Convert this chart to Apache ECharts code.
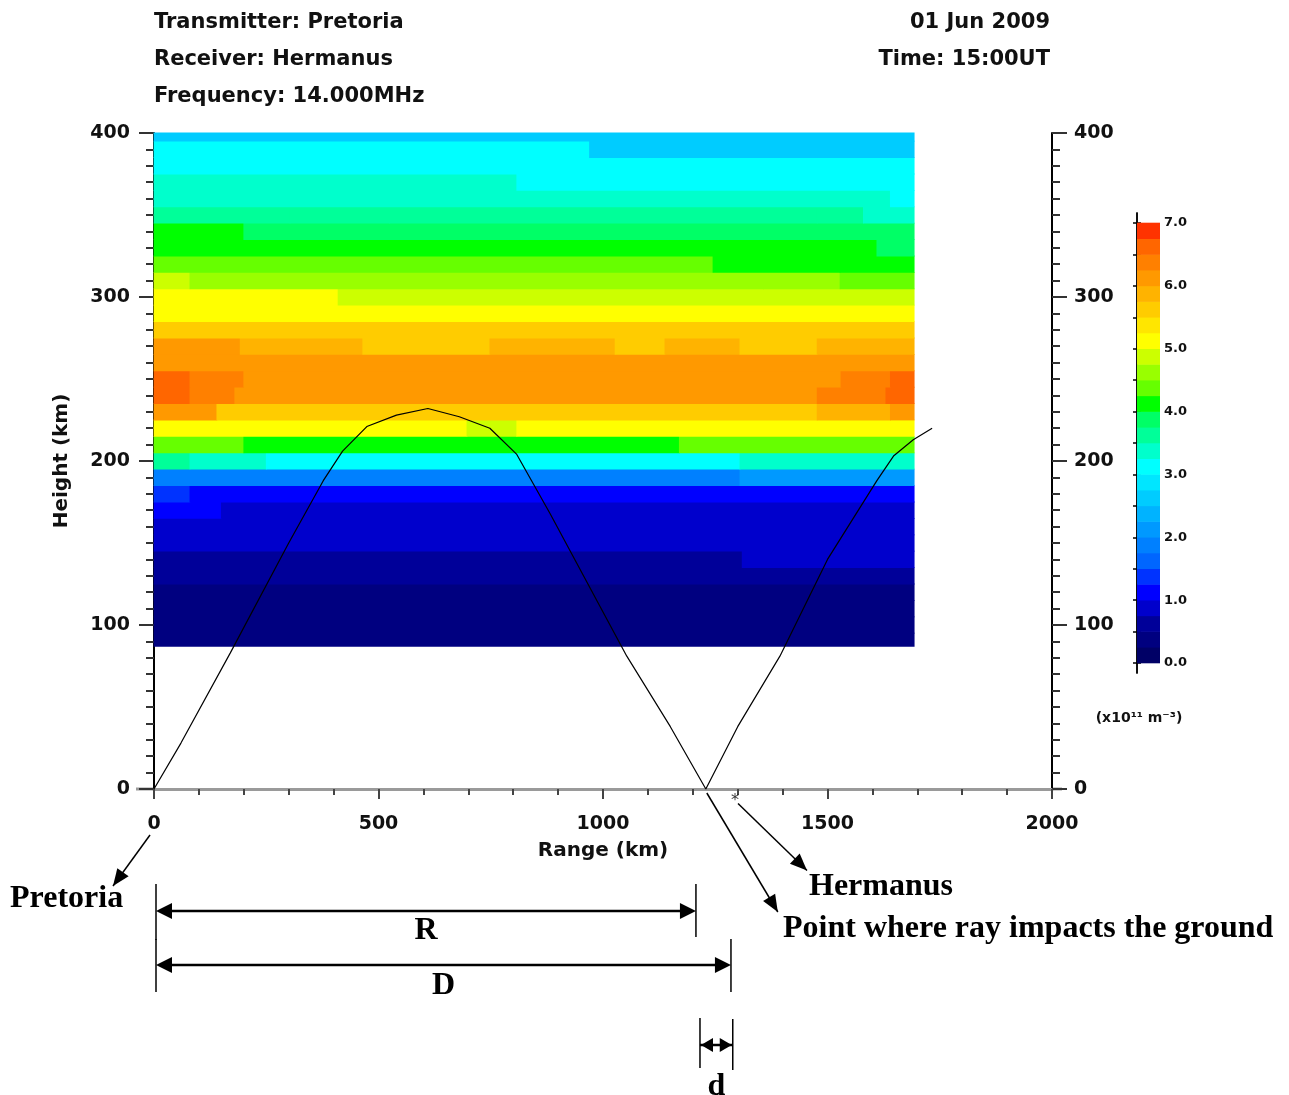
<!DOCTYPE html>
<html><head><meta charset="utf-8">
<script src="https://cdn.jsdelivr.net/npm/echarts@6/dist/echarts.min.js"></script>
<style>html,body{margin:0;padding:0;background:#fff}#c{width:1289px;height:1095px}</style>
</head><body><div id="c"></div>
<script>
// ---------- data ----------
const headerLeft = ['Transmitter: Pretoria', 'Receiver: Hermanus', 'Frequency: 14.000MHz'];
const headerRight = ['01 Jun 2009', 'Time: 15:00UT'];
const xAxisTitle = 'Range (km)';
const yAxisTitle = 'Height (km)';
const unitLabel = '(x10\u00B9\u00B9 m\u207B\u00B3)';

// colour scale: lower bound of each level and its colour
const levelBounds = [0,0.25,0.5,0.75,1,1.25,1.5,1.75,2,2.25,2.5,2.75,3,3.25,3.5,3.75,4,4.25,4.5,4.75,5,5.25,5.5,5.75,6,6.25,6.5,6.75,7];
const levelColors = ['#000066','#000080','#000099','#0000CC','#0000FF','#0033FF','#0066FF','#0080FF',
  '#0099FF','#00B3FF','#00CCFF','#00E6FF','#00FFFF','#00FFCC','#00FF99','#00FF66',
  '#00FF00','#66FF00','#99FF00','#CCFF00','#FFFF00','#FFE600','#FFCC00','#FFB300',
  '#FF9900','#FF8000','#FF6600','#FF3300'];
const colorbarTicks = [0,1,2,3,4,5,6,7];

// electron density grid: height band edges (km) and per band [rangeStart, rangeEnd, density]
const bandEdges = [87,95,105,115,125,135,145,155,165,175,185,195,205,215,225,235,245,255,265,275,285,295,305,315,325,335,345,355,365,375,385,395,400];
const bandSegments = [
  [[0,1693,0.4]],
  [[0,1693,0.4]],
  [[0,1693,0.4]],
  [[0,1693,0.4]],
  [[0,1693,0.6]],
  [[0,1310,0.6],[1310,1693,0.85]],
  [[0,1693,0.85]],
  [[0,1693,0.85]],
  [[0,150,1.1],[150,1693,0.85]],
  [[0,80,1.35],[80,1693,1.1]],
  [[0,1305,1.85],[1305,1693,2.1]],
  [[0,80,3.6],[80,250,3.35],[250,1305,3.1],[1305,1693,3.35]],
  [[0,200,4.35],[200,1170,4.1],[1170,1693,4.35]],
  [[0,697,5.1],[697,808,4.85],[808,1693,5.1]],
  [[0,140,6.1],[140,1477,5.6],[1477,1640,5.85],[1640,1693,6.1]],
  [[0,80,6.6],[80,180,6.35],[180,1477,6.1],[1477,1630,6.35],[1630,1693,6.6]],
  [[0,80,6.6],[80,200,6.35],[200,1530,6.1],[1530,1640,6.35],[1640,1693,6.6]],
  [[0,1693,6.1]],
  [[0,192,6.1],[192,465,5.85],[465,748,5.6],[748,1027,5.85],[1027,1138,5.6],[1138,1305,5.85],[1305,1477,5.6],[1477,1693,5.85]],
  [[0,1693,5.6]],
  [[0,1693,5.1]],
  [[0,410,5.1],[410,1693,4.85]],
  [[0,80,4.85],[80,1357,4.6],[1357,1528,4.5],[1528,1693,4.35]],
  [[0,1245,4.35],[1245,1528,4.2],[1528,1693,4.1]],
  [[0,1610,4.1],[1610,1693,3.9]],
  [[0,200,4.0],[200,1693,3.85]],
  [[0,303,3.6],[303,525,3.5],[525,1477,3.6],[1477,1580,3.5],[1580,1693,3.35]],
  [[0,1640,3.4],[1640,1693,3.1]],
  [[0,808,3.3],[808,1693,3.1]],
  [[0,1693,3.1]],
  [[0,970,3.1],[970,1693,2.6]],
  [[0,1693,2.6]]
];

// ray path
const rayRange  = [0, 60, 170, 300, 377, 420, 474, 540, 610, 680, 748, 808, 882, 1053, 1150, 1229, 1300, 1394, 1500, 1610, 1647, 1691, 1733];
const rayHeight = [0, 28, 83, 150, 188, 206, 221, 228, 232, 227, 220, 204, 168, 81, 38, 0, 38, 81, 140, 188, 203, 213, 220];

// receiver marker (range km, height km)
const hermanusPos = [1294, -7];

// dimension annotations: [label, rangeStart, rangeEnd]
const dimR = ['R', 0, 1207];
const dimD = ['D', 0, 1285];
const dimSmall = ['d', 1216, 1289];
const notePretoria = 'Pretoria';
const noteHermanus = 'Hermanus';
const noteImpact = 'Point where ray impacts the ground';

// ---------- build ----------
const cells = [];
bandSegments.forEach((segs, i) => {
  segs.forEach(s => cells.push([s[0], s[1], bandEdges[i], bandEdges[i + 1], s[2]]));
});
const pieces = levelColors.map((c, i) => ({ gte: levelBounds[i], lt: levelBounds[i + 1], color: c }));
const cbData = levelColors.map((c, i) => [0, 1, levelBounds[i], levelBounds[i + 1]]);
const rayData = rayRange.map((r, i) => [r, rayHeight[i]]);

const SANS = '"DejaVu Sans", sans-serif';
const axisFont = { fontFamily: SANS, fontWeight: 'bold', fontSize: 19, color: '#111' };
const cbTickValues = [0,0.5,1,1.5,2,2.5,3,3.5,4,4.5,5,5.5,6,6.5,7];

const chart = echarts.init(document.getElementById('c'), null, { renderer: 'canvas' });

const option = {
  backgroundColor: '#fff',
  animation: false,
  grid: [
    { left: 154, top: 133, width: 898, height: 656, show: false },
    { left: 1137, top: 213, width: 23, height: 460, show: false }
  ],
  visualMap: {
    type: 'piecewise', show: false, dimension: 4, seriesIndex: 0, pieces: pieces
  },
  xAxis: [
    {
      gridIndex: 0, type: 'value', min: 0, max: 2000, interval: 500, position: 'bottom',
      axisLine: { show: true, onZero: false, lineStyle: { color: '#9a9a9a', width: 3 } },
      axisTick: { show: true, length: 10, lineStyle: { color: '#444', width: 2 } },
      minorTick: { show: true, splitNumber: 5, length: 6, lineStyle: { color: '#444', width: 2 } },
      splitLine: { show: false },
      axisLabel: Object.assign({ margin: 26, formatter: v => String(v) }, axisFont),
      name: xAxisTitle, nameLocation: 'middle', nameGap: 52,
      nameTextStyle: Object.assign({}, axisFont, { fontSize: 20 })
    },
    { gridIndex: 1, type: 'value', min: 0, max: 1, show: false }
  ],
  yAxis: [
    {
      gridIndex: 0, type: 'value', min: 0, max: 400, interval: 100, position: 'left',
      axisLine: { show: true, onZero: false, lineStyle: { color: '#000', width: 2 } },
      axisTick: { show: true, length: 15, lineStyle: { color: '#333', width: 2 } },
      minorTick: { show: true, splitNumber: 10, length: 8, lineStyle: { color: '#333', width: 2 } },
      splitLine: { show: false },
      axisLabel: Object.assign({ margin: 24 }, axisFont),
      name: yAxisTitle, nameLocation: 'middle', nameGap: 82, nameRotate: 90,
      nameTextStyle: Object.assign({}, axisFont, { fontSize: 20 })
    },
    {
      gridIndex: 0, type: 'value', min: 0, max: 400, interval: 100, position: 'right',
      axisLine: { show: true, onZero: false, lineStyle: { color: '#000', width: 2 } },
      axisTick: { show: true, length: 15, lineStyle: { color: '#333', width: 2 } },
      minorTick: { show: true, splitNumber: 10, length: 8, lineStyle: { color: '#333', width: 2 } },
      splitLine: { show: false },
      axisLabel: Object.assign({ margin: 22 }, axisFont)
    },
    {
      gridIndex: 1, type: 'value', min: -0.159, max: 7.159, position: 'right',
      axisLine: { show: true, lineStyle: { color: '#000', width: 1.5 } },
      axisTick: { show: true, inside: true, length: 4, customValues: cbTickValues, lineStyle: { color: '#000', width: 1.5 } },
      axisLabel: { show: true, margin: 4, customValues: colorbarTicks, formatter: v => v.toFixed(1), fontFamily: SANS, fontWeight: 'bold', fontSize: 13, color: '#111' },
      splitLine: { show: false }
    },
    {
      gridIndex: 1, type: 'value', min: -0.159, max: 7.159, position: 'left',
      axisLine: { show: true, lineStyle: { color: '#000', width: 1.5 } },
      axisTick: { show: true, inside: true, length: 4, customValues: cbTickValues, lineStyle: { color: '#000', width: 1.5 } },
      axisLabel: { show: false },
      splitLine: { show: false }
    }
  ],
  series: [
    {
      type: 'custom', xAxisIndex: 0, yAxisIndex: 0, data: cells, silent: true,
      encode: { x: [0, 1], y: [2, 3] },
      renderItem: function (params, api) {
        const p0 = api.coord([api.value(0), api.value(3)]);
        const p1 = api.coord([api.value(1), api.value(2)]);
        return {
          type: 'rect',
          shape: { x: p0[0] - 0.4, y: p0[1] - 0.4, width: p1[0] - p0[0] + 0.8, height: p1[1] - p0[1] + 0.8 },
          style: { fill: api.visual('color') }
        };
      }
    },
    {
      type: 'line', xAxisIndex: 0, yAxisIndex: 0, data: rayData, showSymbol: false, clip: false,
      lineStyle: { color: '#000', width: 1.2 }, silent: true, z: 5
    },
    {
      type: 'scatter', xAxisIndex: 0, yAxisIndex: 0, data: [hermanusPos], clip: false, symbolSize: 0,
      label: { show: true, position: 'inside', formatter: '*', fontFamily: SANS, fontSize: 16, color: '#000' },
      silent: true, z: 6
    },
    {
      type: 'custom', xAxisIndex: 1, yAxisIndex: 2, data: cbData, silent: true,
      encode: { x: [0, 1], y: [2, 3] },
      renderItem: function (params, api) {
        const p0 = api.coord([0, api.value(3)]);
        const p1 = api.coord([1, api.value(2)]);
        return {
          type: 'rect',
          shape: { x: p0[0], y: p0[1] - 0.3, width: p1[0] - p0[0], height: p1[1] - p0[1] + 0.6 },
          style: { fill: levelColors[params.dataIndex] }
        };
      }
    }
  ]
};
chart.setOption(option);

// ---------- annotations (positions derived from the range axis) ----------
const X = r => chart.convertToPixel({ xAxisIndex: 0 }, r);
const Y = h => chart.convertToPixel({ yAxisIndex: 0 }, h);
const SERIF = '"Liberation Serif", "Times New Roman", serif';
const g = [];
function line(x1, y1, x2, y2, w, col) {
  g.push({ type: 'line', silent: true, shape: { x1, y1, x2, y2 }, style: { stroke: col || '#000', lineWidth: w || 1.5 } });
}
function head(x1, y1, x2, y2, len, w) {
  const L = Math.hypot(x2 - x1, y2 - y1), ux = (x2 - x1) / L, uy = (y2 - y1) / L;
  const bx = x2 - ux * len, by = y2 - uy * len, nx = -uy, ny = ux;
  g.push({ type: 'polygon', silent: true, shape: { points: [[x2, y2], [bx + nx * w, by + ny * w], [bx - nx * w, by - ny * w]] }, style: { fill: '#000' } });
}
function arrow(x1, y1, x2, y2) { line(x1, y1, x2, y2, 1.5); head(x1, y1, x2, y2, 17, 7); }
function dim(d, y, tickTop1, tickBot1, tickTop2, tickBot2, labelY, hl, hw) {
  const a = X(d[1]) + 2, b = X(d[2]);
  line(a, tickTop1, a, tickBot1, 1.5);
  line(b, tickTop2, b, tickBot2, 1.5);
  line(a + hl - 2, y, b - hl + 2, y, 2.5);
  head(b, y, a, y, hl, hw);
  head(a, y, b, y, hl, hw);
  g.push({ type: 'text', silent: true, x: (a + b) / 2, y: labelY, style: { text: d[0], font: 'bold 32px ' + SERIF, fill: '#000', textAlign: 'center', textVerticalAlign: 'middle' } });
}
function txt(s, x, y, size, align, font) {
  g.push({ type: 'text', silent: true, x, y, style: { text: s, font: 'bold ' + size + 'px ' + font, fill: '#111', textAlign: align, textVerticalAlign: 'middle' } });
}

const y0 = Y(0);
// range axis line extends a little beyond the plot on both sides
line(136, y0, X(0) - 1, y0, 3, '#9a9a9a');
line(X(2000) + 1, y0, 1062, y0, 3, '#9a9a9a');

// header
headerLeft.forEach((s, i) => txt(s, X(0), 23 + i * 37, 21, 'left', SANS));
headerRight.forEach((s, i) => txt(s, X(2000) - 2, 23 + i * 37, 21, 'right', SANS));
// colour bar units
txt(unitLabel, 1139, 718, 14, 'center', SANS);

// arrows
arrow(X(0) - 4, y0 + 46, X(0) - 41, y0 + 97);
const hx = X(hermanusPos[0]), hy = Y(hermanusPos[1]);
arrow(hx + 3, hy + 3, hx + 72, hy + 70);
const ix = X(rayRange[15]);
arrow(ix + 1, y0 + 4, ix + 72, y0 + 123);

// dimension lines
dim(dimR, 911, 884, 940, 884, 937, 931, 16, 8);
dim(dimD, 965, 939, 992, 939, 992, 986, 16, 8);
(function () {
  const a = X(dimSmall[1]), b = X(dimSmall[2]), y = 1045;
  line(a, 1018, a, 1068, 1.5);
  line(b, 1019, b, 1070, 1.5);
  line(a, y, b, y, 2.5);
  head(b, y, a + 1, y, 12, 7);
  head(a, y, b - 1, y, 12, 7);
  g.push({ type: 'text', silent: true, x: (a + b) / 2, y: 1087, style: { text: dimSmall[0], font: 'bold 32px ' + SERIF, fill: '#000', textAlign: 'center', textVerticalAlign: 'middle' } });
})();

// notes
g.push({ type: 'text', silent: true, x: 10, y: 899, style: { text: notePretoria, font: 'bold 32px ' + SERIF, fill: '#000', textAlign: 'left', textVerticalAlign: 'middle' } });
g.push({ type: 'text', silent: true, x: 809, y: 887, style: { text: noteHermanus, font: 'bold 32px ' + SERIF, fill: '#000', textAlign: 'left', textVerticalAlign: 'middle' } });
g.push({ type: 'text', silent: true, x: 783, y: 929, style: { text: noteImpact, font: 'bold 32px ' + SERIF, fill: '#000', textAlign: 'left', textVerticalAlign: 'middle' } });

chart.setOption({ graphic: { elements: g } });
</script>
</body></html>
